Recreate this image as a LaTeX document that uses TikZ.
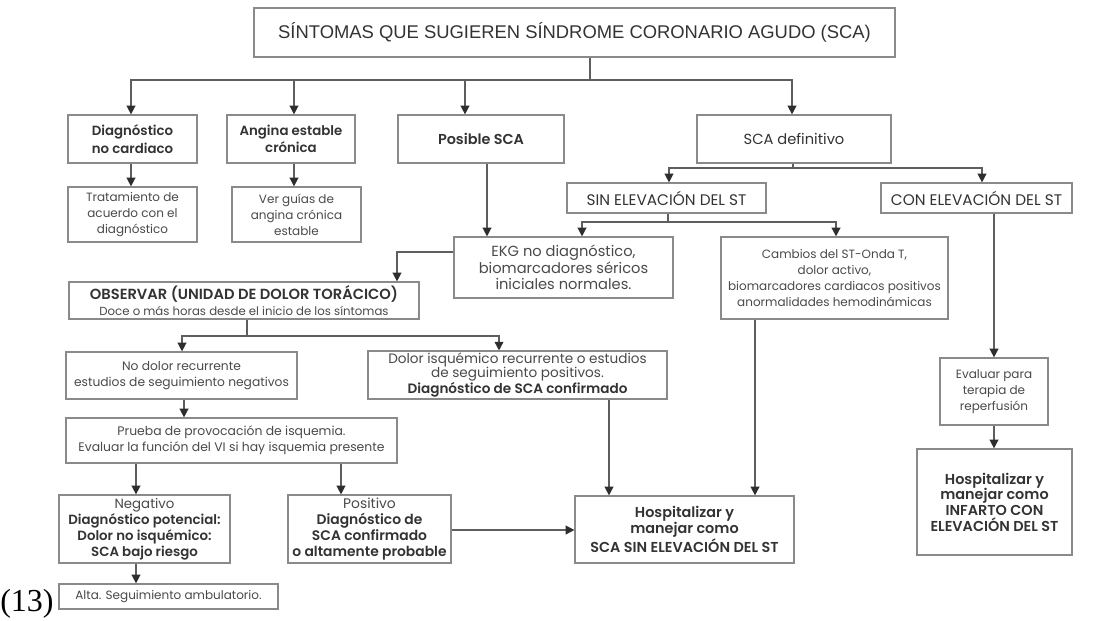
\documentclass[tikz,border=0pt]{standalone}
\usepackage{fontspec}
\setmainfont{Poppins}[BoldFont={Poppins SemiBold}]
\newfontfamily\titlefont{Liberation Sans}
\newfontfamily\numfont{Liberation Serif}
\usetikzlibrary{arrows.meta}
\definecolor{boxc}{HTML}{8A8A8A}
\definecolor{linec}{HTML}{5E5E5E}
\definecolor{tipc}{HTML}{2E2E2E}
\definecolor{txt}{HTML}{4A4A4A}
\definecolor{btxt}{HTML}{333333}
\newcommand\bt[1]{{\color{btxt}\bfseries #1}}
\newcommand\fs[2]{\fontsize{#1}{#2}\selectfont}
\tikzset{
  box/.style={draw=boxc, line width=0.9pt, inner sep=1pt, align=center,
    font=\fs{9}{12}, text=txt},
  ln/.style={draw=linec, line width=1.1pt},
  arr/.style={ln, -{Triangle[length=6.5pt,width=6.5pt,color=tipc]}},
}
\newcommand\bx[7][]{\node[box,#1,minimum width={(#5-#3)*0.75pt},minimum height={(#6-#4)*0.75pt}] (#2) at ({(#3+#5)/2},{(#4+#6)/2}) {#7};}
\begin{document}
\begin{tikzpicture}[x=0.75pt,y=-0.75pt]
\useasboundingbox[fill=white] (0,0) rectangle (1110,621);
% boxes
\bx[font=\titlefont\fs{13.8}{16}, text=btxt]{title}{254}{8}{895}{57}{SÍNTOMAS QUE SUGIEREN SÍNDROME CORONARIO AGUDO (SCA)}
\bx[font=\fs{10}{13}]{dnc}{68}{115}{197}{163}{\bt{Diagnóstico}\\\bt{no cardiaco}}
\bx[font=\fs{10}{13}]{ang}{227}{115}{355}{163}{\bt{Angina estable}\\\bt{crónica}}
\bx[font=\fs{10.8}{13}]{pos}{398}{115}{564}{163}{\bt{Posible SCA}}
\bx[font=\fs{11}{13}, text=btxt]{def}{697}{115}{891}{163}{SCA definitivo}
\bx{trat}{68}{187}{197}{242}{Tratamiento de\\acuerdo con el\\diagnóstico}
\bx{ver}{232}{187}{361}{242}{Ver guías de\\angina crónica\\estable}
\bx[font=\fs{11.5}{13}, text=btxt]{sin}{567}{183}{766}{213}{SIN ELEVACIÓN DEL ST}
\bx[font=\fs{11.5}{13}, text=btxt]{con}{881}{183}{1072}{213}{CON ELEVACIÓN DEL ST}
\bx[font=\fs{11}{12.4}]{ekg}{454}{237}{673}{298}{EKG no diagnóstico,\\biomarcadores séricos\\iniciales normales.}
\bx[font=\fs{9}{12.2}]{cam}{721}{237}{948}{319}{Cambios del ST-Onda T,\\dolor activo,\\biomarcadores cardiacos positivos\\anormalidades hemodinámicas}
\bx[font=\fs{8.8}{12}]{obs}{69}{282}{419}{319}{{\fs{11}{12}\bt{OBSERVAR (UNIDAD DE DOLOR TORÁCICO)}}\\Doce o más horas desde el inicio de los síntomas}
\bx[font=\fs{9.2}{12}]{nod}{66}{352}{297}{399}{No dolor recurrente\\estudios de seguimiento negativos}
\bx[font=\fs{10.2}{11}]{dis}{368}{352}{667}{398}{Dolor isquémico recurrente o estudios\\de seguimiento positivos.\\\bt{Diagnóstico de SCA confirmado}}
\bx[font=\fs{9.3}{12}]{pru}{66}{418}{397}{463}{Prueba de provocación de isquemia.\\Evaluar la función del VI si hay isquemia presente}
\bx[font=\fs{10}{12}]{neg}{59}{495}{230}{563}{Negativo\\\bt{Diagnóstico potencial:}\\\bt{Dolor no isquémico:}\\\bt{SCA bajo riesgo}}
\bx[font=\fs{10.4}{12}]{posi}{288}{495}{451}{563}{Positivo\\\bt{Diagnóstico de}\\\bt{SCA confirmado}\\\bt{o altamente probable}}
\bx{alta}{59}{584}{278}{609}{Alta. Seguimiento ambulatorio.}
\bx[font=\fs{10.8}{11.6}]{hsca}{575}{496}{794}{563}{\bt{Hospitalizar y}\\\bt{manejar como}\\\bt{SCA SIN ELEVACIÓN DEL ST}}
\bx{eva}{940}{358}{1048}{425}{Evaluar para\\terapia de\\reperfusión}
\bx[font=\fs{10.8}{11.8}]{inf}{917}{449}{1072}{555}{\bt{Hospitalizar y}\\\bt{manejar como}\\\bt{INFARTO CON}\\\bt{ELEVACIÓN DEL ST}}
\node[anchor=base west, inner sep=0, font=\numfont\fs{24}{26}] (ref) at (0,611) {(13)};
% junctions
\coordinate (j0) at (590,80);
\coordinate (j1) at (793,168);
\coordinate (j2) at (668,222);
\coordinate (j3) at (247,336);
% connectors
\draw[ln] (title.south -| j0) -- (j0);
\draw[arr] (j0) -| (dnc.north -| 131,0);
\draw[arr] (j0) -| (ang.north -| 294,0);
\draw[arr] (j0) -| (pos.north -| 465,0);
\draw[arr] (j0) -| (def.north -| 792,0);
\draw[arr] (dnc.south -| 131,0) -- (trat.north -| 131,0);
\draw[arr] (ang.south -| 294,0) -- (ver.north -| 294,0);
\draw[arr] (pos.south -| 487,0) -- (ekg.north -| 487,0);
\draw[ln] (def.south -| j1) -- (j1);
\draw[arr] (j1) -| (sin.north -| 669,0);
\draw[arr] (j1) -| (con.north -| 982,0);
\draw[ln] (sin.south -| j2) -- (j2);
\draw[arr] (j2) -| (ekg.north -| 582,0);
\draw[arr] (j2) -| (cam.north -| 836,0);
\draw[arr] (con.south -| 994,0) -- (eva.north -| 994,0);
\draw[arr] (eva.south -| 994,0) -- (inf.north -| 994,0);
\draw[arr] (ekg.west |- 0,252) -| (obs.north -| 397,0);
\draw[ln] (obs.south -| j3) -- (j3);
\draw[arr] (j3) -| (nod.north -| 182,0);
\draw[arr] (j3) -| (dis.north -| 499,0);
\draw[arr] (nod.south -| 184,0) -- (pru.north -| 184,0);
\draw[arr] (pru.south -| 136,0) -- (neg.north -| 136,0);
\draw[arr] (pru.south -| 341,0) -- (posi.north -| 341,0);
\draw[arr] (neg.south -| 136,0) -- (alta.north -| 136,0);
\draw[arr] (posi.east |- 0,530) -- (hsca.west |- 0,530);
\draw[arr] (dis.south -| 609,0) -- (hsca.north -| 609,0);
\draw[arr] (cam.south -| 755,0) -- (hsca.north -| 755,0);
\end{tikzpicture}
\end{document}
